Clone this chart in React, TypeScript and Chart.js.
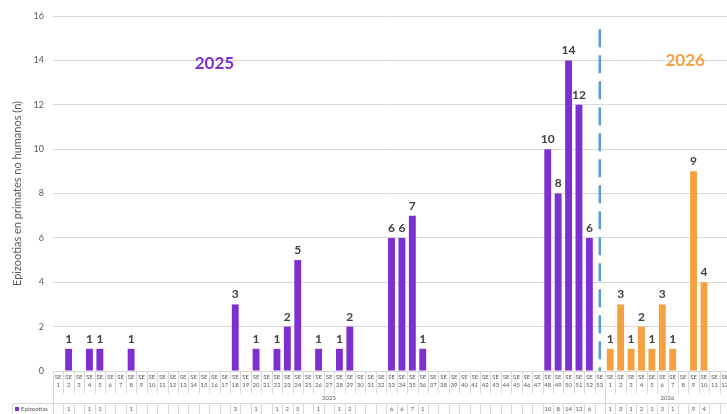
import React, { useEffect, useRef } from "react";
import { Chart, registerables } from "chart.js";

Chart.register(...registerables);

const years = ["2025", "2026"];
const weeks2025: string[] = Array.from({ length: 53 }, (_, i) => String(i + 1));
const weeks2026: string[] = Array.from({ length: 12 }, (_, i) => String(i + 1));

const values2025: (number | null)[] = [
  null, 1, null, 1, 1, null, null, 1, null, null,
  null, null, null, null, null, null, null, 3, null, 1,
  null, 1, 2, 5, null, 1, null, 1, 2, null,
  null, null, 6, 6, 7, 1, null, null, null, null,
  null, null, null, null, null, null, null, 10, 8, 14,
  12, 6, null,
];
const values2026: (number | null)[] = [1, 3, 1, 2, 1, 3, 1, null, 9, 4, null, null];

const yTicks = [0, 2, 4, 6, 8, 10, 12, 14, 16];

const PURPLE = "#7E2FCF";
const ORANGE = "#F5A142";
const GRID = "#d9d9d9";
const TEXT = "#595959";
const FONT = "Lato, 'Open Sans', sans-serif";

const labels = [...weeks2025, ...weeks2026];
const values = [...values2025, ...values2026];
const colors = [...weeks2025.map(() => PURPLE), ...weeks2026.map(() => ORANGE)];

const overlayPlugin = {
  id: "overlay",
  afterDatasetsDraw(chart: any) {
    const ctx = chart.ctx;
    const xs = chart.scales.x;
    const ys = chart.scales.y;
    const ca = chart.chartArea;
    const n = labels.length;
    const w = (ca.right - ca.left) / n;
    const H = chart.height;
    ctx.save();

    // data labels
    const meta = chart.getDatasetMeta(0);
    ctx.fillStyle = "#404040";
    ctx.font = `bold 12px ${FONT}`;
    ctx.textAlign = "center";
    ctx.textBaseline = "bottom";
    meta.data.forEach((bar: any, i: number) => {
      const v = values[i];
      if (v == null) return;
      ctx.fillText(String(v), bar.x, bar.y - 4);
    });

    // dashed separator at SE 53
    const sepX = xs.getPixelForValue(weeks2025.length - 1);
    ctx.strokeStyle = "#5B9BD5";
    ctx.lineWidth = 2.5;
    ctx.setLineDash([18, 8]);
    ctx.beginPath();
    ctx.moveTo(sepX, ys.getPixelForValue(15.4));
    ctx.lineTo(sepX, ys.getPixelForValue(0));
    ctx.stroke();
    ctx.setLineDash([]);

    // year labels
    ctx.font = `bold 17px ${FONT}`;
    ctx.textBaseline = "middle";
    ctx.fillStyle = PURPLE;
    ctx.fillText(years[0], xs.getPixelForValue(15), ys.getPixelForValue(13.85));
    ctx.fillStyle = ORANGE;
    ctx.fillText(years[1], xs.getPixelForValue(60.2), ys.getPixelForValue(14));

    // data table
    const top = ca.bottom;
    const catBottom = top + 22;
    const valTop = top + 32;
    ctx.strokeStyle = GRID;
    ctx.lineWidth = 1;
    const line = (x1: number, y1: number, x2: number, y2: number) => {
      ctx.beginPath();
      ctx.moveTo(Math.round(x1) + 0.5, Math.round(y1) + 0.5);
      ctx.lineTo(Math.round(x2) + 0.5, Math.round(y2) + 0.5);
      ctx.stroke();
    };
    line(ca.left, top, ca.right, top);
    line(12, valTop, ca.right, valTop);
    for (let i = 0; i <= n; i++) {
      const x = xs.getPixelForValue(i) - w / 2;
      line(x, top, x, catBottom);
      line(x, valTop, x, H);
    }
    line(ca.left, top, ca.left, H);
    const yearSep = xs.getPixelForValue(weeks2025.length) - w / 2;
    line(yearSep, top, yearSep, H);
    line(12, valTop, 12, H);

    ctx.fillStyle = TEXT;
    ctx.font = `6px ${FONT}`;
    ctx.textAlign = "center";
    ctx.textBaseline = "middle";
    labels.forEach((lab, i) => {
      const x = xs.getPixelForValue(i);
      ctx.fillText("SE", x, top + 6.5);
      ctx.fillText(lab, x, top + 14.5);
      const v = values[i];
      if (v != null) ctx.fillText(String(v), x, valTop + 6);
    });
    const mid2025 = (xs.getPixelForValue(0) + xs.getPixelForValue(weeks2025.length - 1)) / 2;
    const mid2026 = (xs.getPixelForValue(weeks2025.length) + xs.getPixelForValue(n - 1)) / 2;
    ctx.fillText(years[0], mid2025, top + 27);
    ctx.fillText(years[1], mid2026, top + 27);

    // legend cell
    ctx.fillStyle = PURPLE;
    ctx.fillRect(15, valTop + 4, 4, 4);
    ctx.fillStyle = TEXT;
    ctx.textAlign = "left";
    ctx.fillText("Epizootias", 21, valTop + 6);

    ctx.restore();
  },
};

export default function App() {
  const ref = useRef<HTMLCanvasElement>(null);
  useEffect(() => {
    document.body.style.margin = "0";
    const chart = new Chart(ref.current!, {
      type: "bar",
      data: {
        labels,
        datasets: [
          {
            label: "Epizootias",
            data: values as any,
            backgroundColor: colors,
            barPercentage: 0.66,
            categoryPercentage: 1,
          },
        ],
      },
      options: {
        animation: false,
        responsive: false,
        devicePixelRatio: 1,
        layout: { padding: { top: 16, bottom: 43, left: 0, right: 2 } },
        plugins: { legend: { display: false }, tooltip: { enabled: false } },
        scales: {
          x: { display: false },
          y: {
            min: 0,
            max: 16,
            afterBuildTicks(axis: any) {
              axis.ticks = yTicks.map((v) => ({ value: v }));
            },
            afterFit(axis: any) {
              axis.width = 53;
            },
            border: { display: false },
            grid: { color: GRID, drawTicks: false, lineWidth: 1 },
            ticks: { color: TEXT, font: { size: 9, family: FONT }, padding: 9 },
            title: {
              display: true,
              text: "Epizootias en primates no humanos (n)",
              color: TEXT,
              font: { size: 11, family: FONT },
              padding: { top: 11, bottom: 0 },
            },
          },
        },
      },
      plugins: [overlayPlugin],
    });
    return () => chart.destroy();
  }, []);
  return (
    <div style={{ position: "fixed", left: 0, top: 0, width: 727, height: 414, overflow: "hidden", background: "#fff" }}>
      <canvas ref={ref} width={732} height={414} style={{ width: 732, height: 414, display: "block" }} />
    </div>
  );
}
